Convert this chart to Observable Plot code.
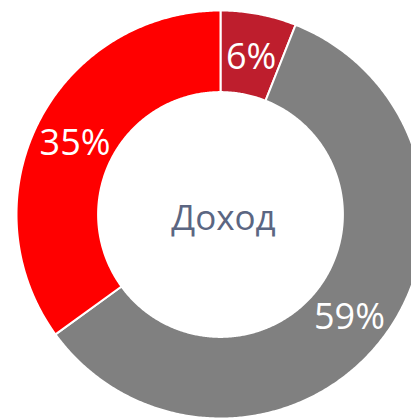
<!DOCTYPE html>
<html><head><meta charset="utf-8">
<script src="https://cdn.jsdelivr.net/npm/d3@7"></script>
<script src="https://cdn.jsdelivr.net/npm/@observablehq/plot@0.6"></script>
<style>body{margin:0;background:#fff}</style>
</head><body><div id="chart"></div>
<script>
const categories = ["A", "B", "C"];
const values = [6, 59, 35];
const labels = ["6%", "59%", "35%"];
const colors = ["#BE1E2D", "#808080", "#FF0000"];
const centerLabel = "Доход";

const inner = 0.6;
const total = d3.sum(values);
let acc = 0;
const slices = values.map((v, i) => {
  const a0 = acc / total * 2 * Math.PI; acc += v;
  const a1 = acc / total * 2 * Math.PI;
  return {name: categories[i], a0, a1, label: labels[i], color: colors[i]};
});
const pts = [];
for (const s of slices) {
  const n = Math.max(2, Math.ceil((s.a1 - s.a0) / (Math.PI / 360)));
  for (let k = 0; k <= n; k++) { const a = s.a0 + (s.a1 - s.a0) * k / n; pts.push({name: s.name, x: Math.sin(a), y: Math.cos(a)}); }
  for (let k = n; k >= 0; k--) { const a = s.a0 + (s.a1 - s.a0) * k / n; pts.push({name: s.name, x: inner * Math.sin(a), y: inner * Math.cos(a)}); }
}
const rl = (1 + inner) / 2;
const lab = slices.map(s => { const a = (s.a0 + s.a1) / 2; return {label: s.label, x: rl * Math.sin(a), y: rl * Math.cos(a)}; });

const W = 411, H = 419, cx = 220, cy = 214, R = 204;
const chart = Plot.plot({
  width: W, height: H, margin: 0,
  x: {domain: [-cx / R, (W - cx) / R], axis: null},
  y: {domain: [-(H - cy) / R, cy / R], axis: null},
  color: {domain: categories, range: colors},
  marks: [
    Plot.line(pts, {x: "x", y: "y", z: "name", fill: "name", stroke: "white", strokeWidth: 2, curve: "linear-closed"}),
    Plot.text(lab, {x: "x", y: "y", text: "label", fill: "white", fontSize: 36, dy: 3, fontFamily: "Open Sans"}),
    Plot.text([centerLabel], {x: [0], y: [0], text: d => d, fill: "#5B6682", fontSize: 35, dx: 3, dy: 4, fontFamily: "Open Sans"})
  ]
});
document.getElementById("chart").appendChild(chart);
</script></body></html>
